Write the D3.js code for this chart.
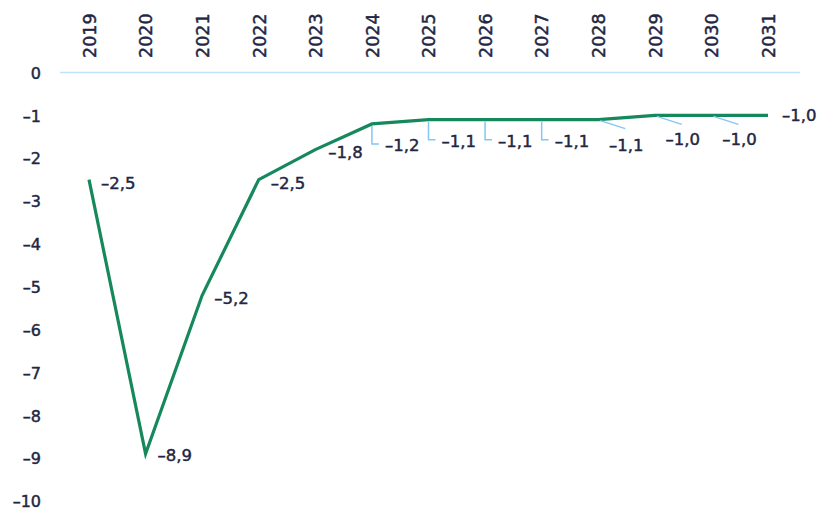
<!DOCTYPE html>
<html>
<head>
<meta charset="utf-8">
<script src="https://cdn.jsdelivr.net/npm/d3@7"></script>
<style>
  html, body { margin: 0; padding: 0; background: #fff; }
  svg { display: block; font-family: "DejaVu Sans", "Liberation Sans", Arial, sans-serif; }
  svg text { stroke: #222642; stroke-width: 0.45px; paint-order: stroke; }
</style>
</head>
<body>
<svg id="chart" width="820" height="511"></svg>
<script>
const years = [2019, 2020, 2021, 2022, 2023, 2024, 2025, 2026, 2027, 2028, 2029, 2030, 2031];
const values = [-2.5, -8.9, -5.2, -2.5, -1.8, -1.2, -1.1, -1.1, -1.1, -1.1, -1.0, -1.0, -1.0];
const yTicks = [0, -1, -2, -3, -4, -5, -6, -7, -8, -9, -10];
// label placement style: "right" = beside point, "elbow" = L-shaped leader, "diag" = diagonal leader
const labelStyle = ["right", "right", "right", "right", "right", "elbow", "elbow", "elbow", "elbow", "diag", "diag", "diag", "right"];

const svg = d3.select("#chart");
const textColor = "#222642";
const dash = "\u2013";

const x = d3.scalePoint().domain(years).range([89, 768]);
const y = d3.scaleLinear().domain([0, -10]).range([72.5, 501]);

// zero line
svg.append("line")
  .attr("x1", 60).attr("x2", 800)
  .attr("y1", y(0)).attr("y2", y(0))
  .attr("stroke", "#c2e2f8").attr("stroke-width", 1.5);

// y axis labels
const yAxis = d3.axisLeft(y).tickValues(yTicks).tickSize(0).tickPadding(0)
  .tickFormat(d => d === 0 ? "0" : dash + Math.abs(d));
const gy = svg.append("g").attr("transform", "translate(41,0)").call(yAxis);
gy.select(".domain").remove();
gy.selectAll("text").attr("fill", textColor).style("font-size", "16px")
  .style("font-family", "DejaVu Sans")
  .attr("dy", "0.36em");

// x axis labels (top, rotated)
const xAxis = d3.axisTop(x).tickSize(0).tickPadding(0).tickFormat(d3.format("d"));
const gx = svg.append("g").attr("transform", "translate(0,58)").call(xAxis);
gx.select(".domain").remove();
gx.selectAll("text")
  .attr("fill", textColor).style("font-size", "17.5px")
  .style("font-family", "DejaVu Sans")
  .attr("transform", "rotate(-90)")
  .attr("x", 0).attr("y", 0).attr("dy", "0.36em")
  .attr("text-anchor", "start");

// line
const line = d3.line().x((d, i) => x(years[i])).y(d => y(d));
svg.append("path")
  .datum(values)
  .attr("d", line)
  .attr("fill", "none")
  .attr("stroke", "#15885c")
  .attr("stroke-width", 3.2)
  .attr("stroke-linejoin", "miter");

// labels
const fmt = v => dash + Math.abs(v).toFixed(1).replace(".", ",");
const leaderColor = "#84c7f2";
const labelSize = "16.5px";
values.forEach((v, i) => {
  const px = x(years[i]), py = y(v);
  const s = labelStyle[i];
  if (s === "right") {
    let dx = 12, dy = 3;
    if (i === 1) { dx = 12; dy = 1; }
    if (i === 4) { dx = 13; dy = 2; }
    if (i === 12) { dx = 14; dy = 0; }
    svg.append("text").attr("x", px + dx).attr("y", py + dy).attr("dy", "0.36em")
      .attr("fill", textColor).style("font-size", labelSize).text(fmt(v));
  } else if (s === "elbow") {
    const ly = py + 20;
    svg.append("path")
      .attr("d", `M${px},${py + 2}V${ly}H${px + 7}`)
      .attr("fill", "none").attr("stroke", leaderColor).attr("stroke-width", 1.5);
    svg.append("text").attr("x", px + 13).attr("y", ly + 1).attr("dy", "0.36em")
      .attr("fill", textColor).style("font-size", labelSize).text(fmt(v));
  } else {
    const ex = px + 27, ey = py + 9;
    svg.append("line").attr("x1", px + 2).attr("y1", py + 1).attr("x2", ex).attr("y2", ey)
      .attr("stroke", leaderColor).attr("stroke-width", 1.5);
    svg.append("text").attr("x", ex + 1).attr("y", ey + (i === 9 ? 16 : 15)).attr("dy", "0.36em")
      .attr("text-anchor", "middle")
      .attr("fill", textColor).style("font-size", labelSize).text(fmt(v));
  }
});
</script>
</body>
</html>
